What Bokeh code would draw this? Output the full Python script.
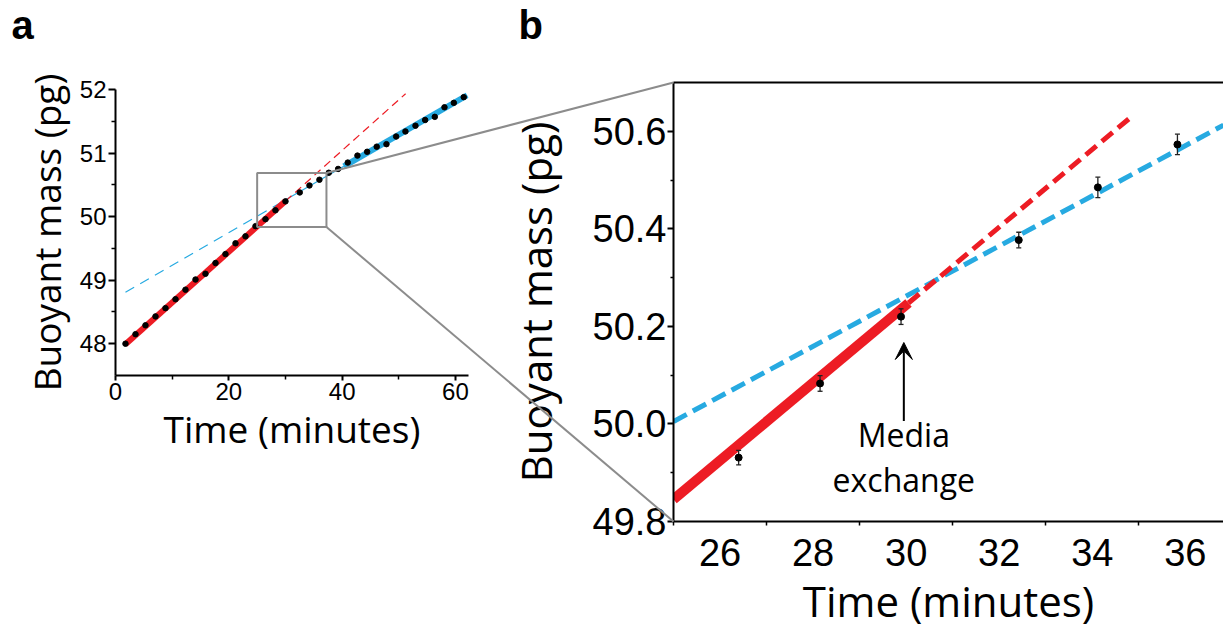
from bokeh.plotting import figure
from bokeh.models import (ColumnDataSource, FixedTicker, LinearAxis, Arrow, VeeHead,
                          Label, Range1d, PrintfTickFormatter)
from bokeh.embed import file_html
from bokeh.resources import INLINE

# ---------------- data ----------------
# panel a: buoyant mass of a single cell over one hour
time_a = [1.76, 3.53, 5.29, 7.06, 8.82, 10.59, 12.35, 14.12, 15.88, 17.65, 19.41, 21.18,
          22.94, 24.71, 26.47, 28.23, 30.0, 32.52, 34.23, 35.99, 37.64, 39.29, 40.99,
          42.7, 44.41, 46.1, 47.82, 49.53, 51.17, 52.94, 54.65, 56.35, 58.06, 59.71, 61.46]
mass_a = [48.0, 48.15, 48.29, 48.43, 48.56, 48.70, 48.85, 49.01, 49.10, 49.27, 49.41, 49.58,
          49.69, 49.85, 49.96, 50.10, 50.24, 50.38, 50.49, 50.58, 50.69, 50.75, 50.85,
          50.96, 51.02, 51.10, 51.14, 51.26, 51.34, 51.43, 51.52, 51.57, 51.72, 51.79, 51.88]

# panel b: zoom around the media exchange, with error bars
time_b = [26.40, 28.15, 29.89, 32.42, 34.12, 35.83]
mass_b = [49.931, 50.083, 50.220, 50.377, 50.485, 50.573]
err_b = [0.015, 0.016, 0.016, 0.016, 0.021, 0.021]

# linear fits (slope pg/min, intercept pg)
red_fit = (0.0797, 47.853)    # before media exchange
blue_fit = (0.0514, 48.720)   # after media exchange

# extents (minutes) of the drawn fit segments
a_red_solid = [1.76, 30.0]
a_red_dash = [30.0, 51.2]
a_blue_dash = [1.76, 29.5]
a_blue_thin = [29.5, 40.3]
a_blue_solid = [40.3, 62.06]
b_red_solid = [25.0, 30.05]
b_red_dash = [30.05, 34.82]
b_blue_dash = [25.0, 36.82]

zoom_box = {"left": 25.0, "right": 37.23, "bottom": 49.836, "top": 50.687}

media_time = 29.95
media_arrow = [50.006, 50.167]
media_text = ["Media", "exchange"]
media_text_y = [49.979, 49.887]

xticks_a = [0, 20, 40, 60]
xminor_a = [10, 30, 50]
yticks_a = [48, 49, 50, 51, 52]
yminor_a = [48.5, 49.5, 50.5, 51.5]
xticks_b = [26, 28, 30, 32, 34, 36]
xminor_b = [25, 27, 29, 31, 33, 35]
yticks_b = [49.8, 50.0, 50.2, 50.4, 50.6]
yminor_b = [49.9, 50.1, 50.3, 50.5]

panel_letters = ["a", "b"]

RED = "#ED1C24"
BLUE = "#27AAE1"
GRAY = "#8C8C8C"
LABEL_FONT = "Open Sans"
TICK_FONT = "Liberation Sans"

# ---------------- geometry (page pixels) ----------------
W, H = 1223, 632
W_A = 500
A_L, A_R, A_T, A_B = 115, 468, 89, 375
B_L, B_R, B_T, B_B = 673, 1223, 82, 521
XA = (0.0, 62.3)
YA = (47.5, 52.0)
XB = (25.0, 36.82)
YB = (49.8, 50.7)
LETTER_POS = [(11, 2), (518, 2)]


def a_to_px(t, m):
    return (A_L + (t - XA[0]) / (XA[1] - XA[0]) * (A_R - A_L),
            A_B - (m - YA[0]) / (YA[1] - YA[0]) * (A_B - A_T))


def a_from_px(x, y):
    return (XA[0] + (x - A_L) / (A_R - A_L) * (XA[1] - XA[0]),
            YA[0] + (A_B - y) / (A_B - A_T) * (YA[1] - YA[0]))


def b_to_px(t, m):
    return (B_L + (t - XB[0]) / (XB[1] - XB[0]) * (B_R - B_L),
            B_B - (m - YB[0]) / (YB[1] - YB[0]) * (B_B - B_T))


def fit_line(seg, fit):
    return seg, [fit[0] * t + fit[1] for t in seg]


def style_axis(ax, label, label_size, tick_size, tick_out, minor_out, std, lab_std):
    ax.axis_label = label
    ax.axis_label_text_font = LABEL_FONT
    ax.axis_label_text_font_size = label_size
    ax.axis_label_text_font_style = "normal"
    ax.axis_label_text_color = "black"
    ax.axis_label_standoff = lab_std
    ax.major_label_text_font = TICK_FONT
    ax.major_label_text_font_size = tick_size
    ax.major_label_text_color = "black"
    ax.major_label_standoff = std
    ax.axis_line_width = 2
    ax.axis_line_color = "black"
    ax.major_tick_line_width = 2
    ax.minor_tick_line_width = 1.5
    ax.major_tick_line_color = "black"
    ax.minor_tick_line_color = "black"
    ax.major_tick_in = 0
    ax.minor_tick_in = 0
    ax.major_tick_out = tick_out
    ax.minor_tick_out = minor_out


# ---------------- panel a ----------------
pa = figure(width=W_A, height=H, x_range=Range1d(*XA), y_range=Range1d(*YA),
            min_border_left=A_L, min_border_right=W_A - A_R, min_border_top=A_T,
            min_border_bottom=H - A_B, output_backend="svg", toolbar_location=None,
            styles={"position": "absolute", "left": "0px", "top": "0px"})
pa.outline_line_color = None
pa.grid.visible = False
pa.background_fill_color = "white"
pa.border_fill_color = "white"
pa.xaxis.ticker = FixedTicker(ticks=xticks_a, minor_ticks=xminor_a)
pa.yaxis.ticker = FixedTicker(ticks=yticks_a, minor_ticks=yminor_a)
style_axis(pa.xaxis[0], "Time (minutes)", "37px", "24px", 5, 4, 2, 0)
style_axis(pa.yaxis[0], "Buoyant mass (pg)", "37px", "24px", 7, 4, 2, 5)

x, y = fit_line(a_blue_dash, blue_fit)
pa.line(x, y, color=BLUE, line_width=1.2, line_dash="10 7")
x, y = fit_line(a_blue_thin, blue_fit)
pa.line(x, y, color=BLUE, line_width=1.2)
x, y = fit_line(a_blue_solid, blue_fit)
pa.line(x, y, color=BLUE, line_width=6)
x, y = fit_line(a_red_dash, red_fit)
pa.line(x, y, color=RED, line_width=1.2, line_dash="8 5")
x, y = fit_line(a_red_solid, red_fit)
pa.line(x, y, color=RED, line_width=6)

pa.scatter(time_a, mass_a, size=5.5, color="black")

box_src = ColumnDataSource({k: [v] for k, v in zoom_box.items()})
pa.quad(left="left", right="right", bottom="bottom", top="top", source=box_src,
        fill_alpha=0, line_color=GRAY, line_width=2)

# ---------------- panel b ----------------
pb = figure(width=W - W_A, height=H, x_range=Range1d(*XB), y_range=Range1d(*YB),
            min_border_left=B_L - W_A, min_border_right=0, min_border_top=B_T,
            min_border_bottom=H - B_B, output_backend="svg", toolbar_location=None,
            styles={"position": "absolute", "left": "%dpx" % W_A, "top": "0px"})
pb.outline_line_color = None
pb.grid.visible = False
pb.background_fill_color = "white"
pb.border_fill_color = "white"
pb.xaxis.ticker = FixedTicker(ticks=xticks_b, minor_ticks=xminor_b)
pb.yaxis.ticker = FixedTicker(ticks=yticks_b, minor_ticks=yminor_b)
pb.yaxis.formatter = PrintfTickFormatter(format="%.1f")
style_axis(pb.xaxis[0], "Time (minutes)", "42px", "38px", 4, 4, 13, 3)
pb.xaxis.major_tick_line_color = None
style_axis(pb.yaxis[0], "Buoyant mass (pg)", "42px", "38px", 6, 3, 1, 26)

top_axis = LinearAxis(ticker=FixedTicker(ticks=[]), axis_line_width=2, axis_line_color="black",
                      major_tick_line_color=None, minor_tick_line_color=None,
                      major_label_text_font_size="0px")
pb.add_layout(top_axis, "above")

x, y = fit_line(b_blue_dash, blue_fit)
pb.line(x, y, color=BLUE, line_width=5, line_dash="15 7")
x, y = fit_line(b_red_dash, red_fit)
pb.line(x, y, color=RED, line_width=5, line_dash="14 7")
x, y = fit_line(b_red_solid, red_fit)
pb.line(x, y, color=RED, line_width=10)

lo = [m - e for m, e in zip(mass_b, err_b)]
hi = [m + e for m, e in zip(mass_b, err_b)]
pb.segment(x0=time_b, y0=lo, x1=time_b, y1=hi, line_color="#222222", line_width=1.3)
pb.scatter(time_b, hi, marker="dash", size=5, line_color="#222222", line_width=1.3)
pb.scatter(time_b, lo, marker="dash", size=5, line_color="#222222", line_width=1.3)
pb.scatter(time_b, mass_b, size=7, color="black")

pb.add_layout(Arrow(end=VeeHead(size=17, fill_color="black", line_color="black"),
                    x_start=media_time, y_start=media_arrow[0], x_end=media_time,
                    y_end=media_arrow[1], line_color="black", line_width=2))
for txt, ty in zip(media_text, media_text_y):
    pb.add_layout(Label(x=media_time, y=ty, text=txt, text_font=LABEL_FONT,
                        text_font_size="32px", text_color="black", text_align="center",
                        text_baseline="alphabetic"))

# ---------------- transparent overlay: zoom connectors + panel letters ----------------
# it uses panel a's data coordinates, extended over the whole page
ov_x0, ov_y0 = a_from_px(0, H)
ov_x1, ov_y1 = a_from_px(W, 0)
ov = figure(width=W, height=H, x_range=Range1d(ov_x0, ov_x1), y_range=Range1d(ov_y0, ov_y1),
            min_border=0, x_axis_type=None, y_axis_type=None, output_backend="svg",
            toolbar_location=None,
            styles={"position": "absolute", "left": "0px", "top": "0px",
                    "pointer-events": "none"})
ov.outline_line_color = None
ov.grid.visible = False
ov.background_fill_alpha = 0
ov.border_fill_alpha = 0

corner_top_b = a_from_px(*b_to_px(XB[0], YB[1]))
corner_bot_b = a_from_px(*b_to_px(XB[0], YB[0]))
ov.segment(x0=[zoom_box["right"], zoom_box["right"]],
           y0=[zoom_box["top"], zoom_box["bottom"]],
           x1=[corner_top_b[0], corner_bot_b[0]],
           y1=[corner_top_b[1], corner_bot_b[1]],
           line_color=GRAY, line_width=2)

lx = [a_from_px(*p)[0] for p in LETTER_POS]
ly = [a_from_px(*p)[1] for p in LETTER_POS]
ov.text(x=lx, y=ly, text=panel_letters, text_font={"value": "Liberation Sans"},
        text_font_style="bold", text_font_size="40px", text_color="black",
        text_align="left", text_baseline="top")

open("out.html", "w").write(file_html([pa, pb, ov], INLINE))
